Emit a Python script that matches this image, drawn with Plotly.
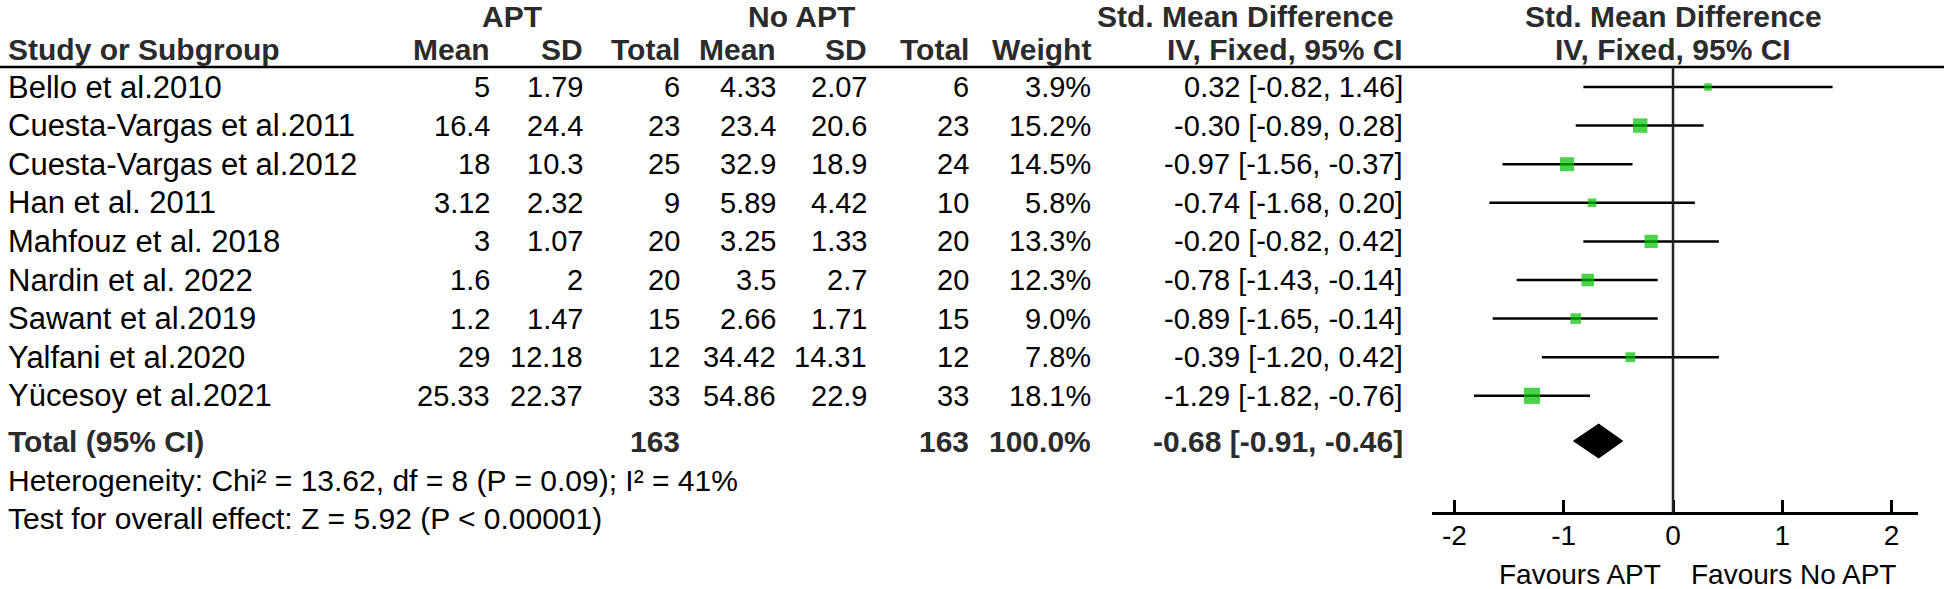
import plotly.graph_objects as go


# Datos del forest plot.
STUDIES = [
    "Bello et al.2010",
    "Cuesta-Vargas et al.2011",
    "Cuesta-Vargas et al.2012",
    "Han et al. 2011",
    "Mahfouz et al. 2018",
    "Nardin et al. 2022",
    "Sawant et al.2019",
    "Yalfani et al.2020",
    "Yücesoy et al.2021",
]
APT_MEAN = [5, 16.4, 18, 3.12, 3, 1.6, 1.2, 29, 25.33]
APT_SD = [1.79, 24.4, 10.3, 2.32, 1.07, 2, 1.47, 12.18, 22.37]
APT_N = [6, 23, 25, 9, 20, 20, 15, 12, 33]
CTRL_MEAN = [4.33, 23.4, 32.9, 5.89, 3.25, 3.5, 2.66, 34.42, 54.86]
CTRL_SD = [2.07, 20.6, 18.9, 4.42, 1.33, 2.7, 1.71, 14.31, 22.9]
CTRL_N = [6, 23, 24, 10, 20, 20, 15, 12, 33]
WEIGHT = [3.9, 15.2, 14.5, 5.8, 13.3, 12.3, 9.0, 7.8, 18.1]
SMD = [0.32, -0.30, -0.97, -0.74, -0.20, -0.78, -0.89, -0.39, -1.29]
CI_LO = [-0.82, -0.89, -1.56, -1.68, -0.82, -1.43, -1.65, -1.20, -1.82]
CI_HI = [1.46, 0.28, -0.37, 0.20, 0.42, -0.14, -0.14, 0.42, -0.76]

TOTAL_SMD = -0.68
TOTAL_LO = -0.91
TOTAL_HI = -0.46
TOTAL_WEIGHT = 100.0

TICKS = [-2, -1, 0, 1, 2]

HETEROGENEITY = "Heterogeneity: Chi² = 13.62, df = 8 (P = 0.09); I² = 41%"
OVERALL = "Test for overall effect: Z = 5.92 (P < 0.00001)"

# Estilos
W, H = 1944, 589
FONT = "Liberation Sans, Arial, sans-serif"
BOLD_COLOR = "#2b2b2b"
GREEN = "#00c000"

# Posiciones (píxeles)
ROW0, ROW_STEP = 87, 38.6
Y_HEAD1, Y_HEAD2, Y_LINE = 16, 49, 67
Y_TOTAL, Y_HET, Y_TEST = 441, 480, 518
Y_AXIS, Y_FAV = 513, 574
X_NAME = 6
COL_RIGHT = [492, 585, 682, 778, 869, 971, 1093, 1405]
X_ZERO, UNIT = 1673, 109.3
X_AX0, X_AX1 = 1432, 1918


def px(x):
    return x / W


row_y = [ROW0 + ROW_STEP * i for i in range(len(STUDIES))]

fig = go.Figure()

# Intervalos de confianza
ci_x, ci_y = [], []
for lo, hi, y in zip(CI_LO, CI_HI, row_y):
    ci_x += [lo, hi, None]
    ci_y += [y, y, None]
fig.add_trace(
    go.Scatter(
        x=ci_x,
        y=ci_y,
        mode="lines",
        line=dict(color="black", width=2.5),
        hoverinfo="skip",
    )
)

# Cuadros de cada estudio (tamaño según peso)
fig.add_trace(
    go.Scatter(
        x=SMD,
        y=row_y,
        mode="markers",
        marker=dict(
            symbol="square",
            color=GREEN,
            size=[5 + 0.62 * w for w in WEIGHT],
            line=dict(color=GREEN, width=0),
        ),
        hoverinfo="skip",
    )
)

# Diamante del efecto total
dh = 17
fig.add_trace(
    go.Scatter(
        x=[TOTAL_LO, TOTAL_SMD, TOTAL_HI, TOTAL_SMD, TOTAL_LO],
        y=[Y_TOTAL, Y_TOTAL - dh, Y_TOTAL, Y_TOTAL + dh, Y_TOTAL],
        mode="lines",
        fill="toself",
        fillcolor="black",
        line=dict(color="black", width=1),
        hoverinfo="skip",
    )
)

annotations = []


def text(x, y, s, anchor="right", bold=False, size=29):
    annotations.append(
        dict(
            x=px(x),
            y=y,
            xref="paper",
            yref="y",
            xanchor=anchor,
            yanchor="middle",
            text=f"<b>{s}</b>" if bold else s,
            showarrow=False,
            font=dict(size=30 if bold else size, color=BOLD_COLOR if bold else "black"),
        )
    )


# Encabezados
text(512, Y_HEAD1, "APT", "center", True)
text(801, Y_HEAD1, "No APT", "center", True)
text(1396, Y_HEAD1, "Std. Mean Difference", "right", True)
text(X_ZERO, Y_HEAD1, "Std. Mean Difference", "center", True)
text(X_NAME, Y_HEAD2, "Study or Subgroup", "left", True)
for xr, lab in zip(
    COL_RIGHT,
    ["Mean", "SD", "Total", "Mean", "SD", "Total", "Weight", "IV, Fixed, 95% CI"],
):
    text(xr, Y_HEAD2, lab, "right", True)
text(X_ZERO, Y_HEAD2, "IV, Fixed, 95% CI", "center", True)

# Filas de estudios
for i, y in enumerate(row_y):
    text(X_NAME, y, STUDIES[i], "left", size=31)
    vals = [
        f"{APT_MEAN[i]:g}",
        f"{APT_SD[i]:g}",
        f"{APT_N[i]}",
        f"{CTRL_MEAN[i]:g}",
        f"{CTRL_SD[i]:g}",
        f"{CTRL_N[i]}",
        f"{WEIGHT[i]:.1f}%",
        f"{SMD[i]:.2f} [{CI_LO[i]:.2f}, {CI_HI[i]:.2f}]",
    ]
    for xr, v in zip(COL_RIGHT, vals):
        text(xr, y, v)

# Fila total
text(X_NAME, Y_TOTAL, "Total (95% CI)", "left", True)
text(COL_RIGHT[2], Y_TOTAL, f"{sum(APT_N)}", "right", True)
text(COL_RIGHT[5], Y_TOTAL, f"{sum(CTRL_N)}", "right", True)
text(COL_RIGHT[6], Y_TOTAL, f"{TOTAL_WEIGHT:.1f}%", "right", True)
text(
    COL_RIGHT[7],
    Y_TOTAL,
    f"{TOTAL_SMD:.2f} [{TOTAL_LO:.2f}, {TOTAL_HI:.2f}]",
    "right",
    True,
)
text(X_NAME, Y_HET, HETEROGENEITY, "left", size=30)
text(X_NAME, Y_TEST, OVERALL, "left", size=30)

# Favours
text(X_ZERO - 10, Y_FAV, "Favours APT", "right", size=28)
text(X_ZERO + 16, Y_FAV, "Favours No APT", "left", size=28)

# Línea del encabezado y línea del cero
shapes = [
    dict(
        type="line",
        xref="paper",
        yref="y",
        x0=0,
        x1=1,
        y0=Y_LINE,
        y1=Y_LINE,
        line=dict(color="black", width=2.5),
    ),
    dict(
        type="line",
        xref="x",
        yref="y",
        x0=0,
        x1=0,
        y0=Y_LINE,
        y1=Y_AXIS,
        line=dict(color="#222222", width=2.5),
    ),
]

fig.update_layout(
    width=W,
    height=H,
    margin=dict(l=0, r=0, t=0, b=0),
    paper_bgcolor="white",
    plot_bgcolor="white",
    showlegend=False,
    hovermode=False,
    font=dict(family=FONT, size=28, color="black"),
    annotations=annotations,
    shapes=shapes,
    xaxis=dict(
        domain=[px(X_AX0), px(X_AX1)],
        range=[(X_AX0 - X_ZERO) / UNIT, (X_AX1 - X_ZERO) / UNIT],
        anchor="free",
        position=1 - Y_AXIS / H,
        showline=True,
        linecolor="black",
        linewidth=2.5,
        ticks="inside",
        ticklen=12,
        tickwidth=2.5,
        tickcolor="black",
        tickvals=TICKS,
        ticktext=[str(t) for t in TICKS],
        tickfont=dict(size=28, color="black"),
        ticklabelstandoff=-3,
        showgrid=False,
        zeroline=False,
    ),
    yaxis=dict(
        domain=[0, 1],
        range=[H, 0],
        visible=False,
        showgrid=False,
        zeroline=False,
    ),
)

# Sin margen en el body para que la figura ocupe toda la ventana.
fig.write_html(
    "out.html",
    config={"displayModeBar": False},
    post_script="document.body.style.margin = '0';",
)
